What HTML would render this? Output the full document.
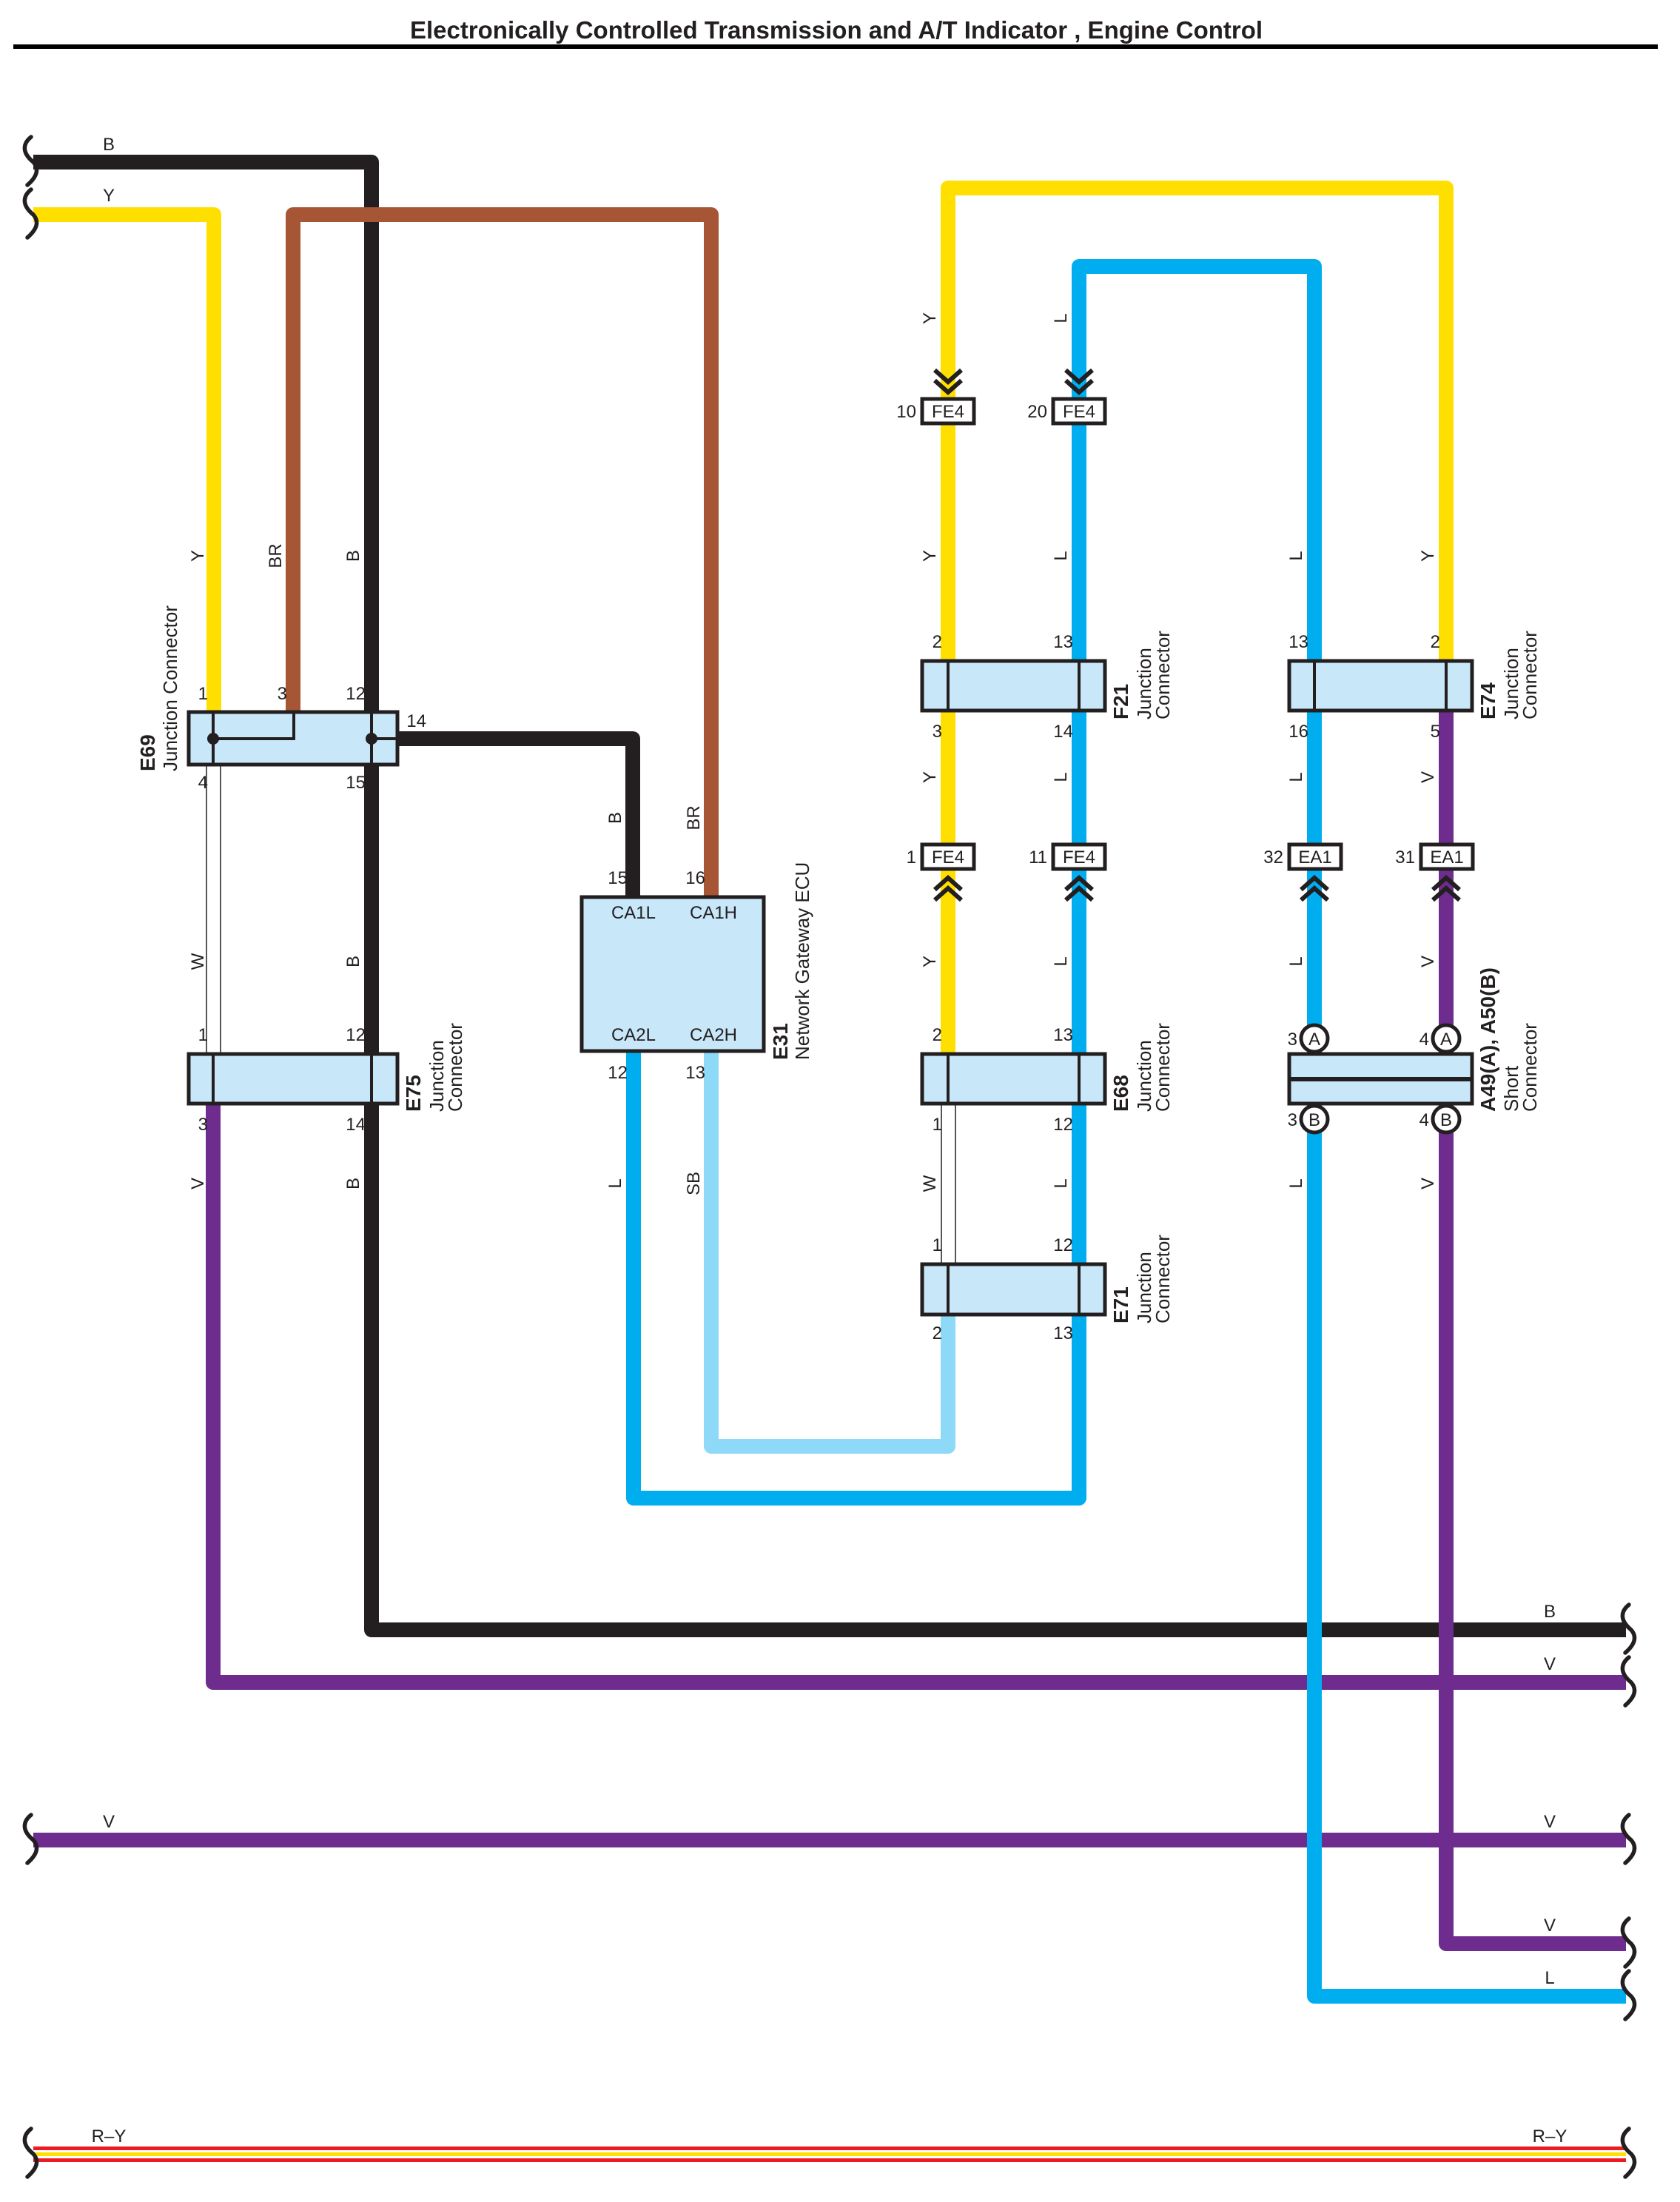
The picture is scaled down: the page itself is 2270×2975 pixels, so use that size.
<!DOCTYPE html>
<html><head><meta charset="utf-8"><style>html,body{margin:0;padding:0;background:#fff}svg{display:block}</style></head>
<body>
<svg width="2270" height="2975" viewBox="0 0 2270 2975" xmlns="http://www.w3.org/2000/svg" font-family="Liberation Sans, Arial, sans-serif" fill="#231F20">
<defs>
<path id="br" d="M0 -34 C-10 -26 -14 -14 3 0 C10 8 10 18 -5 31" fill="none" stroke="#231F20" stroke-width="5.5" stroke-linecap="round"/>
</defs>
<rect width="2270" height="2975" fill="#fff"/>
<text x="1130" y="52" font-size="33" font-weight="bold" text-anchor="middle">Electronically Controlled Transmission and A/T Indicator , Engine Control</text>
<rect x="18" y="60" width="2222" height="6" fill="#000"/>

<g fill="none" stroke-width="20" stroke-linejoin="round">
<path d="M45 219 H502 V2202 H2197" stroke="#231F20"/>
<path d="M45 290 H289 V962" stroke="#FFDF00"/>
<path d="M396 962 V290 H961 V1212" stroke="#A65535"/>
<path d="M537 998 H855 V1212" stroke="#231F20"/>
<path d="M288 1493 V2273 H2197" stroke="#6E2C8E"/>
<path d="M45 2486 H2197" stroke="#6E2C8E"/>
<path d="M1954 960 V2626 H2197" stroke="#6E2C8E"/>
<path d="M961 1420 V1954 H1281 V1778" stroke="#8ED8F8"/>
<path d="M856 1420 V2024 H1458 V360 H1776 V2697 H2197" stroke="#00AEEF"/>
<path d="M1281 1422 V254 H1954 V893" stroke="#FFDF00"/>
</g>
<!-- R-Y -->
<rect x="45" y="2900" width="2152" height="5" fill="#ED1C24"/>
<rect x="45" y="2908" width="2152" height="5" fill="#FFDF00"/>
<rect x="45" y="2916" width="2152" height="5" fill="#ED1C24"/>

<!-- white wires -->
<g stroke="#231F20" stroke-width="1.5">
<line x1="279" y1="1035" x2="279" y2="1422"/><line x1="298" y1="1035" x2="298" y2="1422"/>
<line x1="1272" y1="1493" x2="1272" y2="1706"/><line x1="1291" y1="1493" x2="1291" y2="1706"/>
</g>

<!-- braces -->
<use href="#br" x="42" y="219"/>
<use href="#br" x="42" y="290"/>
<use href="#br" x="42" y="2486"/>
<use href="#br" x="42" y="2910"/>
<use href="#br" x="2201" y="2202"/>
<use href="#br" x="2201" y="2273"/>
<use href="#br" x="2201" y="2486"/>
<use href="#br" x="2201" y="2626"/>
<use href="#br" x="2201" y="2697"/>
<use href="#br" x="2201" y="2910"/>

<!-- junction boxes -->
<g fill="#C8E8FA" stroke="#231F20" stroke-width="5">
<rect x="255" y="962" width="282" height="71"/>
<rect x="255" y="1424" width="282" height="67"/>
<rect x="786" y="1212" width="246" height="208"/>
<rect x="1246" y="893" width="247" height="67"/>
<rect x="1742" y="893" width="247" height="67"/>
<rect x="1246" y="1424" width="247" height="67"/>
<rect x="1246" y="1708" width="247" height="68"/>
<rect x="1742" y="1424" width="247" height="67"/>
</g>
<g stroke="#231F20" stroke-width="4" fill="none">
<path d="M288 962 V1035 M502 962 V1035 M288 998 H397 V962 M502 998 H537"/>
<path d="M288 1424 V1491 M502 1424 V1491"/>
<path d="M1281 893 V960 M1458 893 V960 M1776 893 V960 M1954 893 V960"/>
<path d="M1281 1424 V1491 M1458 1424 V1491 M1281 1708 V1776 M1458 1708 V1776"/>
<path d="M1742 1458 H1989" stroke-width="6"/>
</g>
<circle cx="288" cy="998" r="8"/><circle cx="502" cy="998" r="8"/>

<!-- short connector circles -->
<g fill="#fff" stroke="#231F20" stroke-width="5">
<circle cx="1776" cy="1403" r="18"/><circle cx="1954" cy="1403" r="18"/>
<circle cx="1776" cy="1512" r="18"/><circle cx="1954" cy="1512" r="18"/>
</g>
<g font-size="24" text-anchor="middle">
<text x="1776" y="1412">A</text><text x="1954" y="1412">A</text>
<text x="1776" y="1521">B</text><text x="1954" y="1521">B</text>
</g>

<!-- inline connectors -->
<g fill="#fff" stroke="#231F20" stroke-width="5">
<rect x="1246" y="539" width="70" height="33"/><rect x="1423" y="539" width="70" height="33"/>
<rect x="1246" y="1141" width="70" height="33"/><rect x="1423" y="1141" width="70" height="33"/>
<rect x="1742" y="1141" width="70" height="33"/><rect x="1920" y="1141" width="70" height="33"/>
</g>
<g font-size="24" text-anchor="middle">
<text x="1281" y="564">FE4</text><text x="1458" y="564">FE4</text>
<text x="1281" y="1166">FE4</text><text x="1458" y="1166">FE4</text>
<text x="1777" y="1166">EA1</text><text x="1955" y="1166">EA1</text>
</g>
<!-- chevrons -->
<g fill="none" stroke="#231F20" stroke-width="6">
<path d="M1263 500 L1281 516 L1299 500 M1263 514 L1281 530 L1299 514"/>
<path d="M1440 500 L1458 516 L1476 500 M1440 514 L1458 530 L1476 514"/>
<path d="M1263 1202 L1281 1186 L1299 1202 M1263 1216 L1281 1200 L1299 1216"/>
<path d="M1440 1202 L1458 1186 L1476 1202 M1440 1216 L1458 1200 L1476 1216"/>
<path d="M1758 1202 L1776 1186 L1794 1202 M1758 1216 L1776 1200 L1794 1216"/>
<path d="M1936 1202 L1954 1186 L1972 1202 M1936 1216 L1954 1200 L1972 1216"/>
</g>

<!-- pin numbers -->
<g font-size="24" text-anchor="end">
<text x="281" y="945">1</text><text x="388" y="945">3</text><text x="494" y="945">12</text>
<text x="281" y="1065">4</text><text x="494" y="1065">15</text>
<text x="576" y="982">14</text>
<text x="281" y="1406">1</text><text x="494" y="1406">12</text>
<text x="281" y="1527">3</text><text x="494" y="1527">14</text>
<text x="848" y="1194">15</text><text x="953" y="1194">16</text>
<text x="848" y="1457">12</text><text x="953" y="1457">13</text>
<text x="1273" y="875">2</text><text x="1450" y="875">13</text>
<text x="1273" y="996">3</text><text x="1450" y="996">14</text>
<text x="1768" y="875">13</text><text x="1946" y="875">2</text>
<text x="1768" y="996">16</text><text x="1946" y="996">5</text>
<text x="1273" y="1406">2</text><text x="1450" y="1406">13</text>
<text x="1273" y="1527">1</text><text x="1450" y="1527">12</text>
<text x="1273" y="1690">1</text><text x="1450" y="1690">12</text>
<text x="1273" y="1809">2</text><text x="1450" y="1809">13</text>
<text x="1238" y="564">10</text><text x="1415" y="564">20</text>
<text x="1238" y="1166">1</text><text x="1415" y="1166">11</text>
<text x="1734" y="1166">32</text><text x="1912" y="1166">31</text>
<text x="1753" y="1412">3</text><text x="1931" y="1412">4</text>
<text x="1753" y="1521">3</text><text x="1931" y="1521">4</text>
</g>

<!-- ECU inside -->
<g font-size="24" text-anchor="middle">
<text x="856" y="1241">CA1L</text><text x="964" y="1241">CA1H</text>
<text x="856" y="1406">CA2L</text><text x="964" y="1406">CA2H</text>
</g>

<!-- horizontal wire labels -->
<g font-size="24" text-anchor="middle">
<text x="147" y="203">B</text><text x="147" y="272">Y</text>
<text x="147" y="2469">V</text><text x="147" y="2894">R–Y</text>
<text x="2094" y="2185">B</text><text x="2094" y="2256">V</text>
<text x="2094" y="2469">V</text><text x="2094" y="2609">V</text>
<text x="2094" y="2680">L</text><text x="2094" y="2894">R–Y</text>
</g>

<!-- vertical wire labels -->
<g font-size="24" text-anchor="middle">
<text transform="translate(275,751) rotate(-90)">Y</text>
<text transform="translate(380,751) rotate(-90)">BR</text>
<text transform="translate(485,751) rotate(-90)">B</text>
<text transform="translate(275,1299) rotate(-90)">W</text>
<text transform="translate(485,1299) rotate(-90)">B</text>
<text transform="translate(275,1599) rotate(-90)">V</text>
<text transform="translate(485,1599) rotate(-90)">B</text>
<text transform="translate(839,1105) rotate(-90)">B</text>
<text transform="translate(945,1105) rotate(-90)">BR</text>
<text transform="translate(839,1599) rotate(-90)">L</text>
<text transform="translate(945,1599) rotate(-90)">SB</text>
<text transform="translate(1264,430) rotate(-90)">Y</text>
<text transform="translate(1264,751) rotate(-90)">Y</text>
<text transform="translate(1264,1050) rotate(-90)">Y</text>
<text transform="translate(1264,1299) rotate(-90)">Y</text>
<text transform="translate(1264,1599) rotate(-90)">W</text>
<text transform="translate(1441,430) rotate(-90)">L</text>
<text transform="translate(1441,751) rotate(-90)">L</text>
<text transform="translate(1441,1050) rotate(-90)">L</text>
<text transform="translate(1441,1299) rotate(-90)">L</text>
<text transform="translate(1441,1599) rotate(-90)">L</text>
<text transform="translate(1759,751) rotate(-90)">L</text>
<text transform="translate(1759,1050) rotate(-90)">L</text>
<text transform="translate(1759,1299) rotate(-90)">L</text>
<text transform="translate(1759,1599) rotate(-90)">L</text>
<text transform="translate(1937,751) rotate(-90)">Y</text>
<text transform="translate(1937,1050) rotate(-90)">V</text>
<text transform="translate(1937,1299) rotate(-90)">V</text>
<text transform="translate(1937,1599) rotate(-90)">V</text>
</g>

<!-- component labels -->
<g font-size="26">
<text transform="translate(209,1042) rotate(-90)" font-weight="bold" font-size="28">E69</text>
<text transform="translate(239,1042) rotate(-90)">Junction Connector</text>
<text transform="translate(568,1502) rotate(-90)" font-weight="bold" font-size="28">E75</text>
<text transform="translate(599,1502) rotate(-90)">Junction</text>
<text transform="translate(624,1502) rotate(-90)">Connector</text>
<text transform="translate(1064,1432) rotate(-90)" font-weight="bold" font-size="28">E31</text>
<text transform="translate(1093,1432) rotate(-90)">Network Gateway ECU</text>
<text transform="translate(1524,972) rotate(-90)" font-weight="bold" font-size="28">F21</text>
<text transform="translate(1555,972) rotate(-90)">Junction</text>
<text transform="translate(1580,972) rotate(-90)">Connector</text>
<text transform="translate(2020,972) rotate(-90)" font-weight="bold" font-size="28">E74</text>
<text transform="translate(2051,972) rotate(-90)">Junction</text>
<text transform="translate(2076,972) rotate(-90)">Connector</text>
<text transform="translate(1524,1502) rotate(-90)" font-weight="bold" font-size="28">E68</text>
<text transform="translate(1555,1502) rotate(-90)">Junction</text>
<text transform="translate(1580,1502) rotate(-90)">Connector</text>
<text transform="translate(1524,1788) rotate(-90)" font-weight="bold" font-size="28">E71</text>
<text transform="translate(1555,1788) rotate(-90)">Junction</text>
<text transform="translate(1580,1788) rotate(-90)">Connector</text>
<text transform="translate(2020,1502) rotate(-90)" font-weight="bold" font-size="28">A49(A), A50(B)</text>
<text transform="translate(2051,1502) rotate(-90)">Short</text>
<text transform="translate(2076,1502) rotate(-90)">Connector</text>
</g>
</svg>
</body></html>
